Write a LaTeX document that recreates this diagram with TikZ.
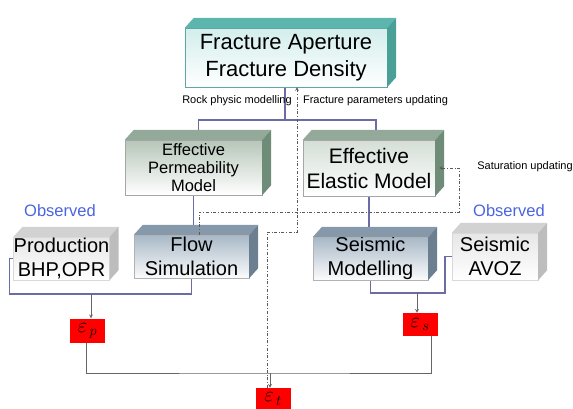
\documentclass[tikz,border=0pt]{standalone}
\usepackage{fontspec}
\setmainfont{Liberation Sans}
\usetikzlibrary{backgrounds}
\definecolor{linkc}{HTML}{6B6BA6}
\definecolor{obsc}{HTML}{4A64E0}
\definecolor{fracfront}{HTML}{D2EEEC}
\definecolor{fractop}{HTML}{5DB6AE}
\definecolor{fracside}{HTML}{4A9F97}
\definecolor{fracedge}{HTML}{5DA8A2}
\definecolor{permfront}{HTML}{B6C6B8}
\definecolor{elasfront}{HTML}{D4DED6}
\definecolor{modtop}{HTML}{93AA9A}
\definecolor{modside}{HTML}{6F8C79}
\definecolor{simfront}{HTML}{A8B8C6}
\definecolor{simtop}{HTML}{8699AA}
\definecolor{simside}{HTML}{6C7F91}
\definecolor{datfront}{HTML}{E6E6E6}
\definecolor{dattop}{HTML}{D2D2D2}
\definecolor{datside}{HTML}{BDBDBD}
\begin{document}
\begin{tikzpicture}[x=1pt,y=-1pt,>=stealth,
    every node/.style={inner sep=0pt,align=center},
    fracbox/.style={draw=fracedge,top color=fracfront,bottom color=white,font=\fontsize{22}{27}\selectfont},
    modbox/.style={draw=gray!70,top color=#1,bottom color=white},
    simbox/.style={draw=gray!60,top color=simfront,bottom color=white!95!simfront,font=\fontsize{20}{24}\selectfont},
    datbox/.style={draw=gray!30,top color=datfront,bottom color=white,font=\fontsize{20}{24}\selectfont},
    errbox/.style={fill=red,minimum width=35pt,minimum height=24pt,font=\fontsize{22}{22}\selectfont},
    note/.style={font=\fontsize{11}{13}\selectfont},
    observed/.style={text=obsc,font=\fontsize{16.5}{18}\selectfont},
    link/.style={linkc,line width=1.6pt},
    sum/.style={black!60,line width=0.7pt},
    fb/.style={black!65,dash dot,line width=0.6pt}]
  \useasboundingbox (0,0) rectangle (573,408);
  \node[fracbox,minimum width=202pt,minimum height=59pt] (frac) at (286,57.5) {Fracture Aperture\\Fracture Density};
  \node[modbox=permfront,minimum width=137pt,minimum height=55pt,font=\fontsize{16.5}{18}\selectfont] (perm) at (193.5,167.5) {Effective\\Permeability\\Model};
  \node[modbox=elasfront,minimum width=132pt,minimum height=56pt,font=\fontsize{21}{25}\selectfont] (elas) at (369,168) {Effective\\Elastic Model};
  \node[simbox,minimum width=115pt,minimum height=43pt] (flow) at (191.5,256.5) {Flow\\Simulation};
  \node[simbox,minimum width=115pt,minimum height=41pt] (seis) at (370.5,258.5) {Seismic\\Modelling};
  \node[datbox,minimum width=93pt,minimum height=43pt] (prod) at (61.5,258.5) {Production\\BHP,OPR};
  \node[datbox,minimum width=86pt,minimum height=47pt] (avoz) at (495,256.5) {Seismic\\AVOZ};
  \node[errbox] (ep) at (87.5,330.5) {$\varepsilon_{\,p}$};
  \node[errbox,minimum height=23pt] (es) at (420,324.5) {$\varepsilon_{\,s}$};
  \node[errbox,minimum height=22pt] (et) at (273,399) {$\varepsilon_{\,t}$};
  \node[note] (rock) at (237,101) {Rock physic modelling};
  \node[note] (fpar) at (375.5,101) {Fracture parameters updating};
  \node[note] (satu) at (525,167) {Saturation updating};
  \node[observed] (obs1) at (60,211) {Observed};
  \node[observed] (obs2) at (509,211) {Observed};
  \foreach \n/\t/\s in {frac/fractop/fracside,perm/modtop/modside,elas/modtop/modside,
      flow/simtop/simside,seis/simtop/simside,prod/dattop/datside,avoz/dattop/datside}{
    \fill[\t] (\n.north west) -- ++(9,-10) -- ([shift={(9,-10)}]\n.north east) -- (\n.north east) -- cycle;
    \fill[\s] (\n.north east) -- ++(9,-10) -- ([shift={(9,-10)}]\n.south east) -- (\n.south east) -- cycle;
  }
  \coordinate (rp) at (285,120);
  \coordinate (pf) at (91,294);
  \coordinate (sa) at (417,293);
  \coordinate (tot) at (270,373);
  \coordinate (upd) at (297,232);
  \coordinate (sat) at (459,212);
  \begin{scope}[on background layer]
    \draw[link] (frac.south -| rp) -- (rp);
    \draw[link] ([xshift=5pt]perm.north) |- (rp) -| ([xshift=7pt]elas.north);
    \draw[link] (perm.south) -- (perm.south |- flow.north);
    \draw[link] (elas.south) -- (elas.south |- seis.north);
    \draw[link] (prod.west) -- ++(-4,0) |- (pf) -| (flow.south);
    \draw[link] (seis.south) |- (sa) -| ([xshift=-7pt]avoz.west) -- (avoz.west);
  \end{scope}
  \draw[sum,->] (pf) -- (pf |- ep.north);
  \draw[sum,->] (sa) -- (sa |- es.north);
  \draw[sum] ([xshift=-1.5pt]ep.south) |- (tot) -| ([xshift=11pt]es.south);
  \draw[sum,->] (tot) -- (tot |- et.north);
  \draw[fb,->] ([xshift=-6pt]et.north) |- (upd) -- (upd |- frac.south);
  \draw[fb,->] ([xshift=7.5pt]flow.north) |- (sat) |- ([xshift=4pt]elas.east);
\end{tikzpicture}
\end{document}
